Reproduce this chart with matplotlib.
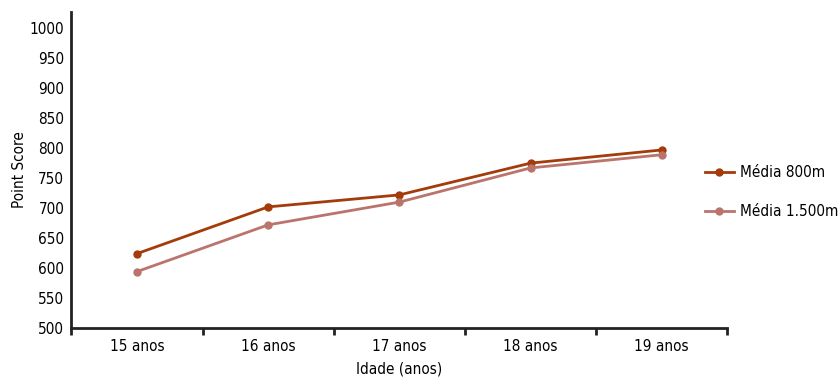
import matplotlib.pyplot as plt
from matplotlib.ticker import FixedLocator

plt.rcParams['font.family'] = ['DejaVu Sans']
plt.rcParams['font.stretch'] = 'condensed'

# Categories (age)
idades = ["15 anos", "16 anos", "17 anos", "18 anos", "19 anos"]

# Mean point score per age
media_800 = [624, 702, 722, 775, 797]
media_1500 = [594, 672, 710, 767, 789]

cor_800 = "#A33B0B"
cor_1500 = "#BA746C"

fig = plt.figure(figsize=(8.39, 3.77), dpi=100)
ax = fig.add_axes([0.085, 0.13, 0.782, 0.838])

x = list(range(len(idades)))
ax.plot(x, media_800, color=cor_800, lw=2, marker='o', ms=5, label="Média 800m")
ax.plot(x, media_1500, color=cor_1500, lw=2, marker='o', ms=5, label="Média 1.500m")

ax.set_xlim(-0.5, len(idades) - 0.5)
ax.set_ylim(500, 1027)
ax.set_yticks(range(500, 1001, 50))
ax.set_xticks(x)
ax.set_xticklabels(idades)
ax.xaxis.set_minor_locator(FixedLocator([i - 0.5 for i in range(len(idades) + 1)]))
ax.yaxis.set_minor_locator(FixedLocator([500]))
ax.tick_params(axis='x', which='major', length=0, pad=8, labelsize=11)
ax.tick_params(axis='x', which='minor', length=5, width=2, direction='out')
ax.tick_params(axis='y', which='major', length=0, pad=5, labelsize=11)
ax.tick_params(axis='y', which='minor', length=4, width=2, direction='out')

for s in ['top', 'right']:
    ax.spines[s].set_visible(False)
for s in ['left', 'bottom']:
    ax.spines[s].set_linewidth(2)
    ax.spines[s].set_color('#222222')
ax.tick_params(which='both', color='#222222')

ax.set_xlabel("Idade (anos)", fontsize=11, labelpad=5)
ax.set_ylabel("Point Score", fontsize=11, labelpad=2)

fig.legend(loc='center left', bbox_to_anchor=(0.84, 0.49), frameon=False,
           fontsize=11, labelspacing=1.55, handlelength=1.9, handletextpad=0.4,
           borderpad=0, borderaxespad=0)

plt.savefig('out.png', dpi=100)
